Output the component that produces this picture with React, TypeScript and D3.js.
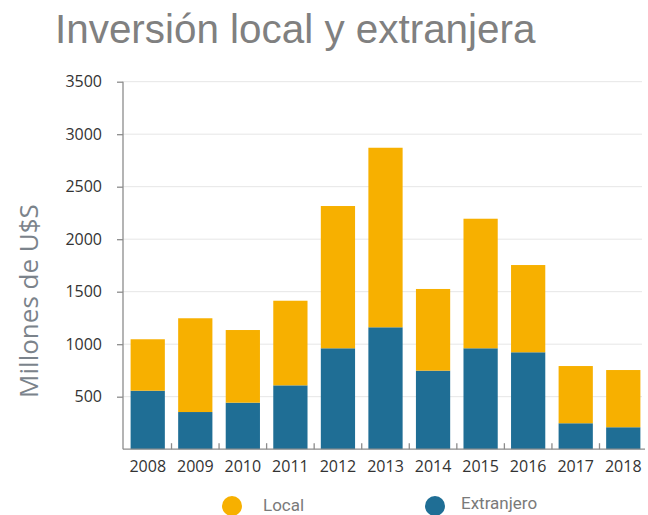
import * as d3 from "d3";
import React, { useEffect, useRef } from "react";

const years = ["2008", "2009", "2010", "2011", "2012", "2013", "2014", "2015", "2016", "2017", "2018"];
// Extranjero (bottom) and Local (top) in millones de U$S
const extranjero = [557, 354, 443, 608, 961, 1161, 748, 961, 923, 247, 209];
const local = [490, 893, 692, 806, 1355, 1710, 778, 1234, 831, 545, 545];
const yTicks = [500, 1000, 1500, 2000, 2500, 3000, 3500];
const seriesNames = ["Local", "Extranjero"];
const colors: Record<string, string> = { Local: "#f7b000", Extranjero: "#1f6e95" };

const width = 648;
const height = 515;

const App: React.FC = () => {
  const svgRef = useRef<SVGSVGElement | null>(null);

  useEffect(() => {
    if (!svgRef.current) return;
    const svg = d3.select(svgRef.current);
    svg.selectAll("*").remove();

    const rows = years.map((year, i) => ({ year, Extranjero: extranjero[i], Local: local[i] }));
    const stack = d3.stack<any>().keys(["Extranjero", "Local"])(rows);

    const x = d3.scaleBand().domain(years).range([123, 648]).paddingInner(0.28).paddingOuter(0.16);
    const y = d3.scaleLinear().domain([0, 3500]).range([449.2, 81.7]);

    // Title
    svg
      .append("text")
      .attr("x", 55)
      .attr("y", 43)
      .attr("fill", "#808080")
      .style("font", "40.4px 'Liberation Sans', Arial, sans-serif")
      .text("Inversión local y extranjera");

    // Gridlines
    svg
      .append("g")
      .selectAll("line")
      .data(yTicks)
      .join("line")
      .attr("x1", 123)
      .attr("x2", 642)
      .attr("y1", (d) => y(d))
      .attr("y2", (d) => y(d))
      .attr("stroke", "#e6e6e6")
      .attr("stroke-width", 1);

    // Bars
    svg
      .append("g")
      .selectAll("g")
      .data(stack)
      .join("g")
      .attr("fill", (s) => colors[s.key])
      .selectAll("rect")
      .data((s) => s)
      .join("rect")
      .attr("x", (d: any) => x(d.data.year)!)
      .attr("width", x.bandwidth())
      .attr("y", (d) => y(d[1]))
      .attr("height", (d) => y(d[0]) - y(d[1]));

    // Y axis
    const yAxis = svg.append("g").attr("transform", "translate(123,0)");
    yAxis
      .call(d3.axisLeft(y).tickValues(yTicks).tickSize(6).tickPadding(15).tickFormat(d3.format("d")))
      .call((g) => g.select(".domain").attr("d", `M0,${y(3500)}V${y(0)}`))
      .call((g) => g.selectAll("line, path").attr("stroke", "#8c8c8c").attr("stroke-width", 1.3))
      .call((g) =>
        g
          .selectAll("text")
          .attr("fill", "#333")
          .style("font", "16px 'Open Sans', sans-serif"),
      );

    // X axis
    const xAxis = svg.append("g").attr("transform", `translate(0,${y(0)})`);
    xAxis
      .call(d3.axisBottom(x).tickSize(0).tickPadding(11))
      .call((g) => g.select(".domain").attr("d", "M123,0H645").attr("stroke", "#8c8c8c").attr("stroke-width", 1.3))
      .call((g) =>
        g
          .selectAll("text")
          .attr("fill", "#333")
          .style("font", "16px 'Open Sans', sans-serif"),
      );
    // small ticks between bands
    svg
      .append("g")
      .selectAll("line")
      .data(years.slice(1))
      .join("line")
      .attr("x1", (d) => x(d)! - (x.step() - x.bandwidth()) / 2)
      .attr("x2", (d) => x(d)! - (x.step() - x.bandwidth()) / 2)
      .attr("y1", y(0) - 6)
      .attr("y2", y(0))
      .attr("stroke", "#8c8c8c")
      .attr("stroke-width", 1.3);

    // Y label
    svg
      .append("text")
      .attr("transform", "translate(38,301) rotate(-90)")
      .attr("text-anchor", "middle")
      .attr("fill", "#7b838b")
      .style("font", "400 26px 'Open Sans', sans-serif")
      .text("Millones de U$S");

    // Legend
    const legendX = [232, 435];
    const legend = svg
      .append("g")
      .selectAll("g")
      .data(seriesNames)
      .join("g")
      .attr("transform", (_, i) => `translate(${legendX[i]},506)`);
    legend.append("circle").attr("r", 10).attr("fill", (d) => colors[d]);
    legend
      .append("text")
      .attr("x", (_, i) => (i === 0 ? 31 : 26))
      .attr("y", (_, i) => (i === 0 ? 5 : 3))
      .attr("fill", "#7a7a7a")
      .style("font", "17px Roboto, sans-serif")
      .text((d) => d);
  }, []);

  return (
    <svg
      ref={svgRef}
      width={width}
      height={height}
      style={{ position: "absolute", left: 0, top: 0, background: "#fff" }}
    />
  );
};

export default App;
